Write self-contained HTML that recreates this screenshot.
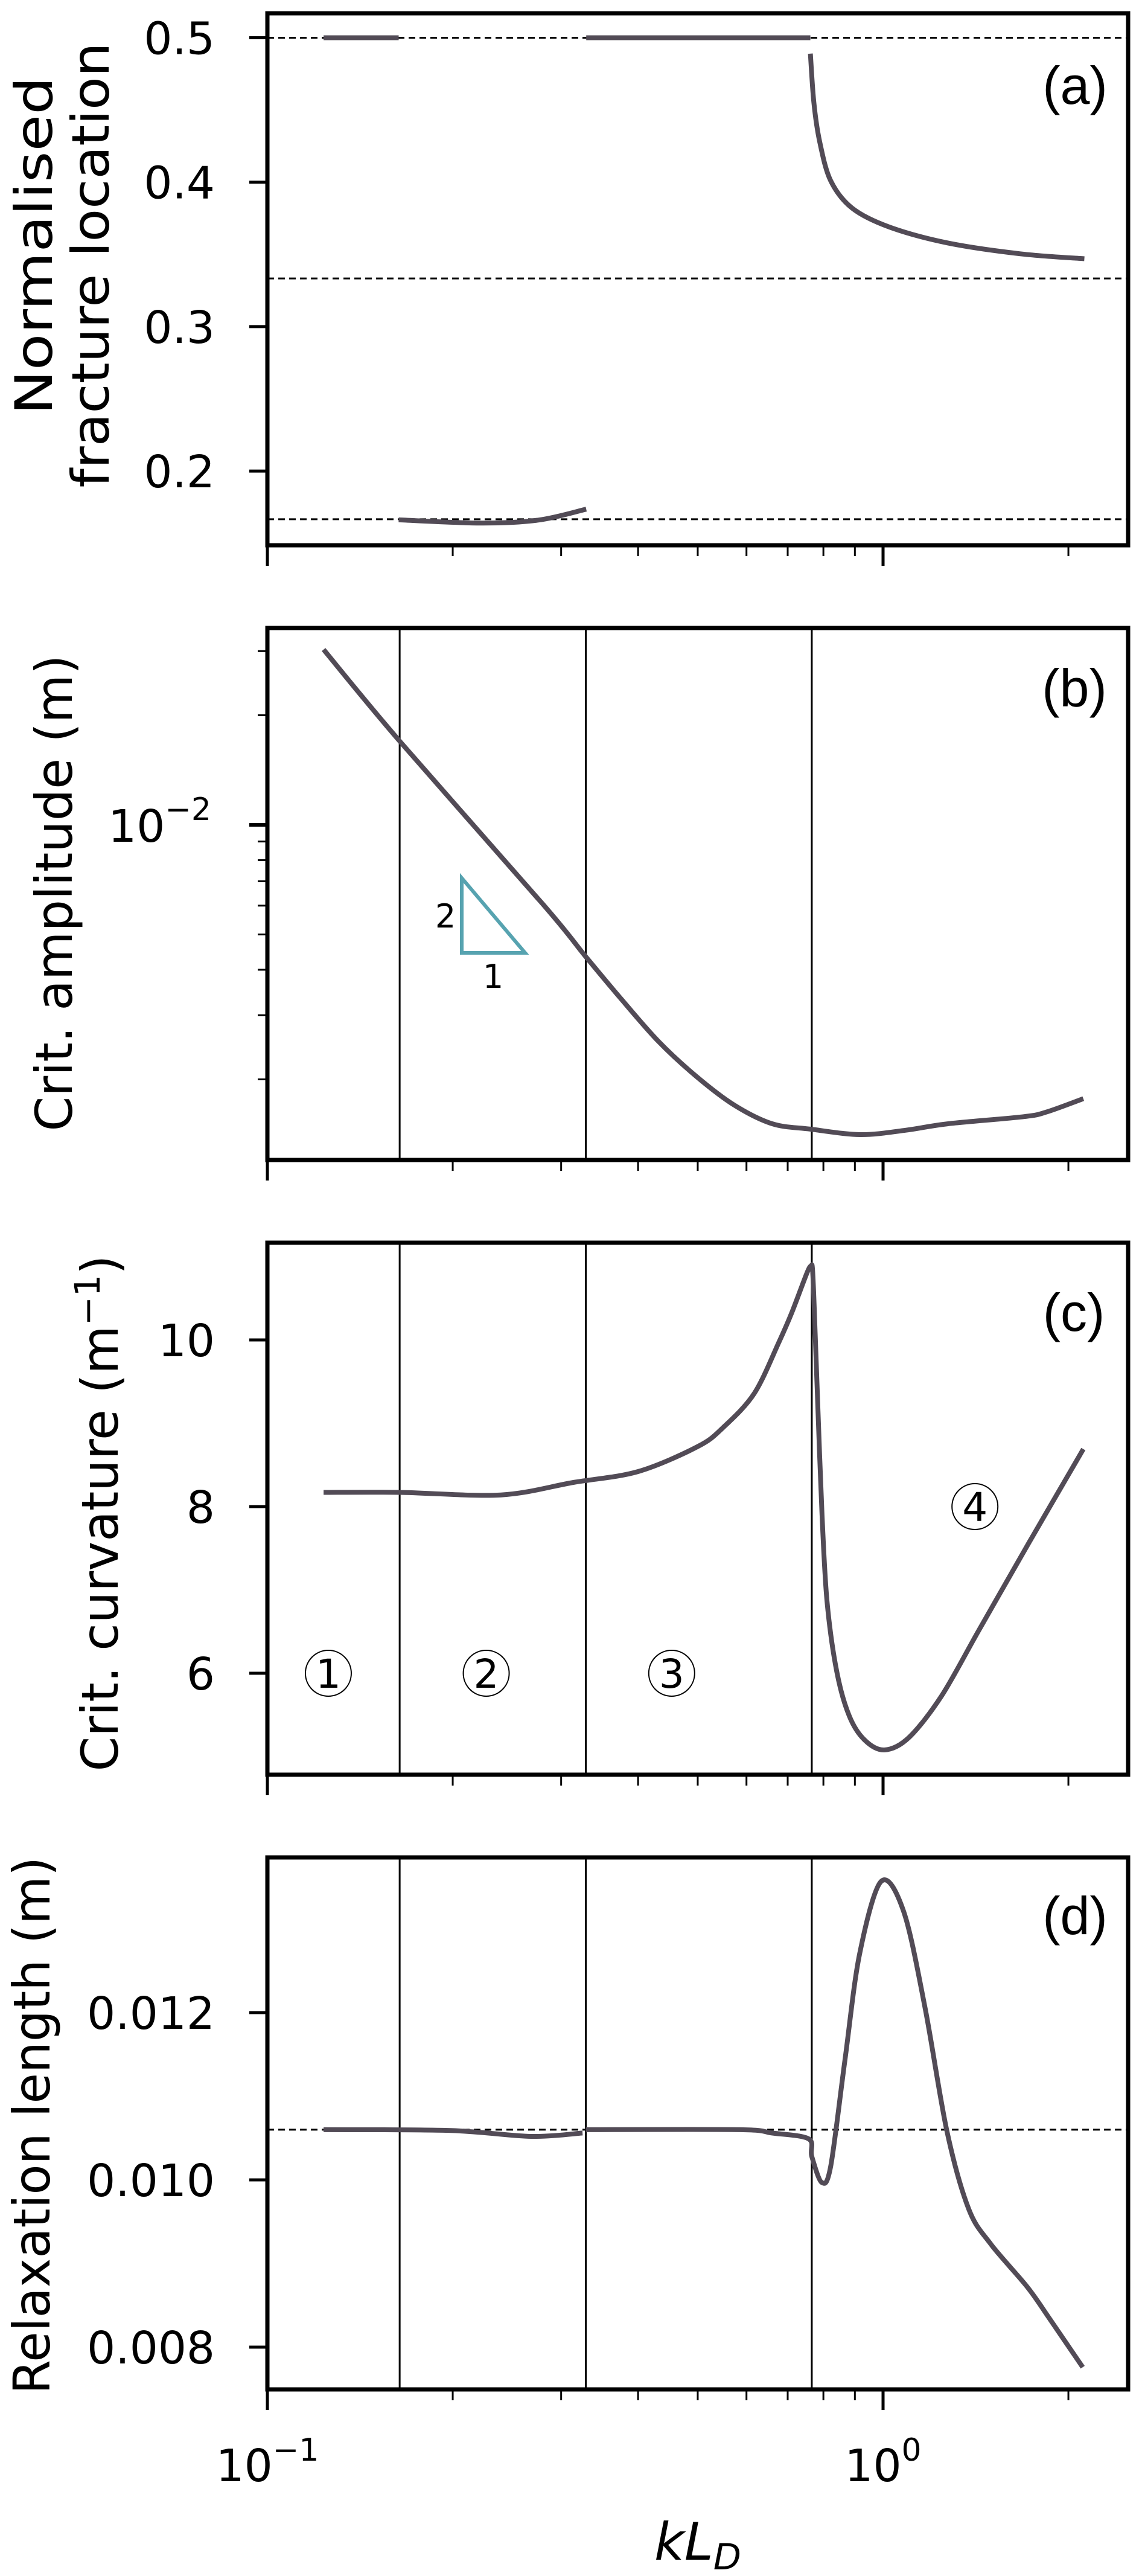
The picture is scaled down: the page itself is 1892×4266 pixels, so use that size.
<!DOCTYPE html>
<html><head><meta charset="utf-8"><style>
html,body{margin:0;padding:0;background:#fff;}
svg{display:block;}
text{font-family:"DejaVu Sans","Liberation Sans",sans-serif;fill:#000;}
</style></head><body>
<svg id="fig" xmlns="http://www.w3.org/2000/svg" width="1892" height="4266" viewBox="0 0 1892 4266">
<defs>
<clipPath id="clipA"><rect x="443" y="22" width="1426" height="881"/></clipPath>
<clipPath id="clipB"><rect x="443" y="1040" width="1426" height="881"/></clipPath>
<clipPath id="clipC"><rect x="443" y="2058" width="1426" height="881"/></clipPath>
<clipPath id="clipD"><rect x="443" y="3076" width="1426" height="881"/></clipPath>
</defs>
<g id="root"></g>
<text transform="translate(86,407) rotate(-90)" text-anchor="middle" font-size="86" textLength="560" lengthAdjust="spacingAndGlyphs">Normalised</text>
<text transform="translate(180,439) rotate(-90)" text-anchor="middle" font-size="86" textLength="737" lengthAdjust="spacingAndGlyphs">fracture location</text>
<text transform="translate(119,1479) rotate(-90)" text-anchor="middle" font-size="84" textLength="789" lengthAdjust="spacingAndGlyphs">Crit. amplitude (m)</text>
<text transform="translate(195,2506) rotate(-90)" text-anchor="middle" font-size="84" textLength="855" lengthAdjust="spacingAndGlyphs">Crit. curvature (m<tspan font-size="58" dy="-30">−1</tspan><tspan dy="30">)</tspan></text>
<text transform="translate(82,3520) rotate(-90)" text-anchor="middle" font-size="84" textLength="890" lengthAdjust="spacingAndGlyphs">Relaxation length (m)</text>
<text x="443" y="4109" text-anchor="middle" font-size="74">10<tspan font-size="52" dy="-34">−1</tspan></text>
<text x="1463" y="4109" text-anchor="middle" font-size="74">10<tspan font-size="52" dy="-34">0</tspan></text>
<text x="1156" y="4239" text-anchor="middle" font-size="86" font-style="italic">kL<tspan font-size="60" dy="16">D</tspan></text>
<text x="1781" y="172" text-anchor="middle" font-size="88" style="font-family:'Liberation Sans',sans-serif">(a)</text>
<text x="1780" y="1170" text-anchor="middle" font-size="88" style="font-family:'Liberation Sans',sans-serif">(b)</text>
<text x="1779" y="2204" text-anchor="middle" font-size="88" style="font-family:'Liberation Sans',sans-serif">(c)</text>
<text x="1781" y="3203" text-anchor="middle" font-size="88" style="font-family:'Liberation Sans',sans-serif">(d)</text>
</svg>
<script>
// ---- data ----
const regionBounds = [0.164, 0.329, 0.766];
const aRefLines = [0.5, 1/3, 1/6];
const aSeg1X = [0.1234, 0.1634];
const aSeg1Y = [0.5, 0.5];
const aSeg2X = [0.1634, 0.222, 0.276, 0.3295];
const aSeg2Y = [0.1662, 0.1640, 0.1661, 0.1736];
const aSeg3X = [0.3295, 0.762];
const aSeg3Y = [0.5, 0.5];
const aSeg4X = [0.762, 0.772, 0.789, 0.822, 0.891, 1.023, 1.271, 1.670, 2.123];
const aSeg4Y = [0.489, 0.455, 0.428, 0.401, 0.382, 0.369, 0.358, 0.3504, 0.347];
const bX = [0.1234, 0.1640, 0.2806, 0.328, 0.373, 0.431, 0.497, 0.573, 0.661, 0.762, 0.918, 1.089, 1.273, 1.695, 1.849, 2.115];
const bY = [0.0303, 0.01698, 0.00604, 0.00437, 0.00337, 0.00255, 0.00204, 0.00170, 0.00151, 0.00146, 0.00141, 0.00145, 0.00151, 0.00158, 0.00163, 0.00177];
const cX = [0.1234, 0.164, 0.2395, 0.314, 0.4, 0.5, 0.55, 0.618, 0.678, 0.711, 0.752, 0.764, 0.768, 0.773, 0.784, 0.796, 0.811, 0.841, 0.881, 0.933, 1.005, 1.102, 1.245, 1.432, 1.727, 2.115];
const cY = [8.17, 8.17, 8.14, 8.29, 8.42, 8.72, 8.95, 9.36, 9.98, 10.33, 10.8, 10.89, 10.85, 10.4, 9.15, 7.9, 6.86, 6.02, 5.49, 5.20, 5.08, 5.23, 5.73, 6.52, 7.57, 8.69];
const dSeg1X = [0.1234, 0.1988, 0.268, 0.325];
const dSeg1Y = [0.0106, 0.01059, 0.01052, 0.01056];
const dSeg2X = [0.329, 0.585, 0.660, 0.757, 0.766, 0.795, 0.822, 0.867, 0.916, 0.993, 1.08, 1.17, 1.27, 1.378, 1.497, 1.715, 1.864, 2.11];
const dSeg2Y = [0.0106, 0.0106, 0.01056, 0.01049, 0.01028, 0.00997, 0.01016, 0.01143, 0.0127, 0.01357, 0.01321, 0.01206, 0.01058, 0.00965, 0.00923, 0.00872, 0.00834, 0.00776];
const dRef = 0.0106;
const aTicks = [0.2, 0.3, 0.4, 0.5];
const aTickLabels = ["0.2", "0.3", "0.4", "0.5"];
const bMinorTicks = [0.002,0.003,0.004,0.005,0.006,0.007,0.008,0.009,0.02,0.03];
const cTicks = [6, 8, 10];
const cTickLabels = ["6", "8", "10"];
const dTicks = [0.008, 0.010, 0.012];
const dTickLabels = ["0.008", "0.010", "0.012"];
const xMinor = [0.2,0.3,0.4,0.5,0.6,0.7,0.8,0.9,2];
const regionLabels = ["1","2","3","4"];
const regionLabelX = [0.1256, 0.2267, 0.4536, 1.41];
const regionLabelY = [6.0, 6.0, 6.0, 8.0];

// ---- scales ----
const L = 443, R = 1869;
const xs = v => L + 1020 * (Math.log10(v) + 1);
const panels = {
  a: {top: 22, bot: 903, ys: v => 62.5 + (0.5 - v) * 2392},
  b: {top: 1040, bot: 1921, ys: v => 1366 - (Math.log10(v) + 2) * 603},
  c: {top: 2058, bot: 2939, ys: v => 2219 + (10 - v) * 138},
  d: {top: 3076, bot: 3957, ys: v => 3610 - (v - 0.010) * 138500}
};
const NS = "http://www.w3.org/2000/svg";
const root = document.getElementById('root');
function mk(tag, attrs, parent) {
  const e = document.createElementNS(NS, tag);
  for (const k in attrs) e.setAttribute(k, attrs[k]);
  (parent || root).appendChild(e);
  return e;
}
function smoothPath(P) {
  if (P.length < 3) return 'M' + P.map(p => p[0].toFixed(1) + ',' + p[1].toFixed(1)).join(' L');
  let d = 'M' + P[0][0].toFixed(1) + ',' + P[0][1].toFixed(1);
  const k = 0.16;
  for (let i = 0; i < P.length - 1; i++) {
    const p0 = P[Math.max(0, i - 1)], p1 = P[i], p2 = P[i + 1], p3 = P[Math.min(P.length - 1, i + 2)];
    const c1 = [p1[0] + (p2[0] - p0[0]) * k, p1[1] + (p2[1] - p0[1]) * k];
    const c2 = [p2[0] - (p3[0] - p1[0]) * k, p2[1] - (p3[1] - p1[1]) * k];
    d += ' C' + c1[0].toFixed(1) + ',' + c1[1].toFixed(1) + ' ' + c2[0].toFixed(1) + ',' + c2[1].toFixed(1) + ' ' + p2[0].toFixed(1) + ',' + p2[1].toFixed(1);
  }
  return d;
}
function curve(xsArr, ysArr, p, clip, name) {
  const P = xsArr.map((x, i) => [xs(x), p.ys(ysArr[i])]);
  const e = mk('path', {d: smoothPath(P), fill: 'none', stroke: '#524b56', 'stroke-width': 8, 'stroke-linejoin': 'round', 'clip-path': 'url(#' + clip + ')'});
  
  
}
function hdash(v, p, name) {
  const e = mk('line', {x1: L, x2: R, y1: p.ys(v), y2: p.ys(v), stroke: '#000', 'stroke-width': 3, 'stroke-dasharray': '11,7'});
  
  
}
function frame(key) {
  const p = panels[key];
  [0.1, 1].forEach(v => {
    const t = mk('line', {x1: xs(v), x2: xs(v), y1: p.bot, y2: p.bot + 34, stroke: '#000', 'stroke-width': 5});
    
    
  });
  xMinor.forEach(v => {
    const t = mk('line', {x1: xs(v), x2: xs(v), y1: p.bot, y2: p.bot + 18, stroke: '#000', 'stroke-width': 3});
    
    
  });
  const f = mk('rect', {x: L, y: p.top, width: R - L, height: p.bot - p.top, fill: 'none', stroke: '#000', 'stroke-width': 7});
  
  
}
function ytick(y, len, w, name) {
  const t = mk('line', {x1: L - len, x2: L, y1: y, y2: y, stroke: '#000', 'stroke-width': w});
  
  
}
function ylabel(y, s) {
  const t = mk('text', {x: 356, y: y + 27, 'text-anchor': 'end', 'font-size': 74});
  t.textContent = s;
  
  
}
function regions(key) {
  const p = panels[key];
  regionBounds.forEach(v => {
    const e = mk('line', {x1: xs(v), x2: xs(v), y1: p.top, y2: p.bot, stroke: '#000', 'stroke-width': 3});
    
    
  });
}

(function(){
  const p = panels.a;
  aRefLines.forEach(v => hdash(v, p, 'reference-line-a'));
  curve(aSeg1X, aSeg1Y, p, 'clipA', 'fracture-location-seg1');
  curve(aSeg2X, aSeg2Y, p, 'clipA', 'fracture-location-seg2');
  curve(aSeg3X, aSeg3Y, p, 'clipA', 'fracture-location-seg3');
  curve(aSeg4X, aSeg4Y, p, 'clipA', 'fracture-location-seg4');
  aTicks.forEach((v, i) => { ytick(p.ys(v), 30, 5, 'y-major-tick-a'); ylabel(p.ys(v), aTickLabels[i]); });
  frame('a');
})();
(function(){
  const p = panels.b;
  regions('b');
  curve(bX, bY, p, 'clipB', 'crit-amplitude-line');
  bMinorTicks.forEach(v => ytick(p.ys(v), 16, 3, 'y-minor-tick-b'));
  ytick(p.ys(0.01), 30, 6, 'y-major-tick-b');
  const t = mk('text', {x: 350, y: p.ys(0.01) + 28, 'text-anchor': 'end', 'font-size': 74});
  
  
  t.innerHTML = '10<tspan font-size="52" dy="-36">−2</tspan>';
  const tri = mk('polygon', {points: '765,1454 765,1578 870,1578', fill: 'none', stroke: '#57a3b0', 'stroke-width': 6});
  
  
  const t2 = mk('text', {x: 738, y: 1536, 'text-anchor': 'middle', 'font-size': 54});
  t2.textContent = '2';
  
  
  const t1 = mk('text', {x: 817, y: 1636, 'text-anchor': 'middle', 'font-size': 54});
  t1.textContent = '1';
  
  
  frame('b');
})();
(function(){
  const p = panels.c;
  regions('c');
  curve(cX, cY, p, 'clipC', 'crit-curvature-line');
  cTicks.forEach((v, i) => { ytick(p.ys(v), 30, 5, 'y-major-tick-c'); ylabel(p.ys(v), cTickLabels[i]); });
  regionLabels.forEach((s, i) => {
    const cx = xs(regionLabelX[i]), cy = p.ys(regionLabelY[i]);
    const c = mk('circle', {cx: cx, cy: cy, r: 38, fill: 'none', stroke: '#000', 'stroke-width': 2});
    
    
    const t = mk('text', {x: cx, y: cy + 24, 'text-anchor': 'middle', 'font-size': 66});
    t.textContent = s;
    
    
  });
  frame('c');
})();
(function(){
  const p = panels.d;
  regions('d');
  hdash(dRef, p, 'reference-line-d');
  curve(dSeg1X, dSeg1Y, p, 'clipD', 'relaxation-length-seg1');
  curve(dSeg2X, dSeg2Y, p, 'clipD', 'relaxation-length-seg2');
  dTicks.forEach((v, i) => { ytick(p.ys(v), 30, 5, 'y-major-tick-d'); ylabel(p.ys(v), dTickLabels[i]); });
  frame('d');
})();
</script>
</body></html>
